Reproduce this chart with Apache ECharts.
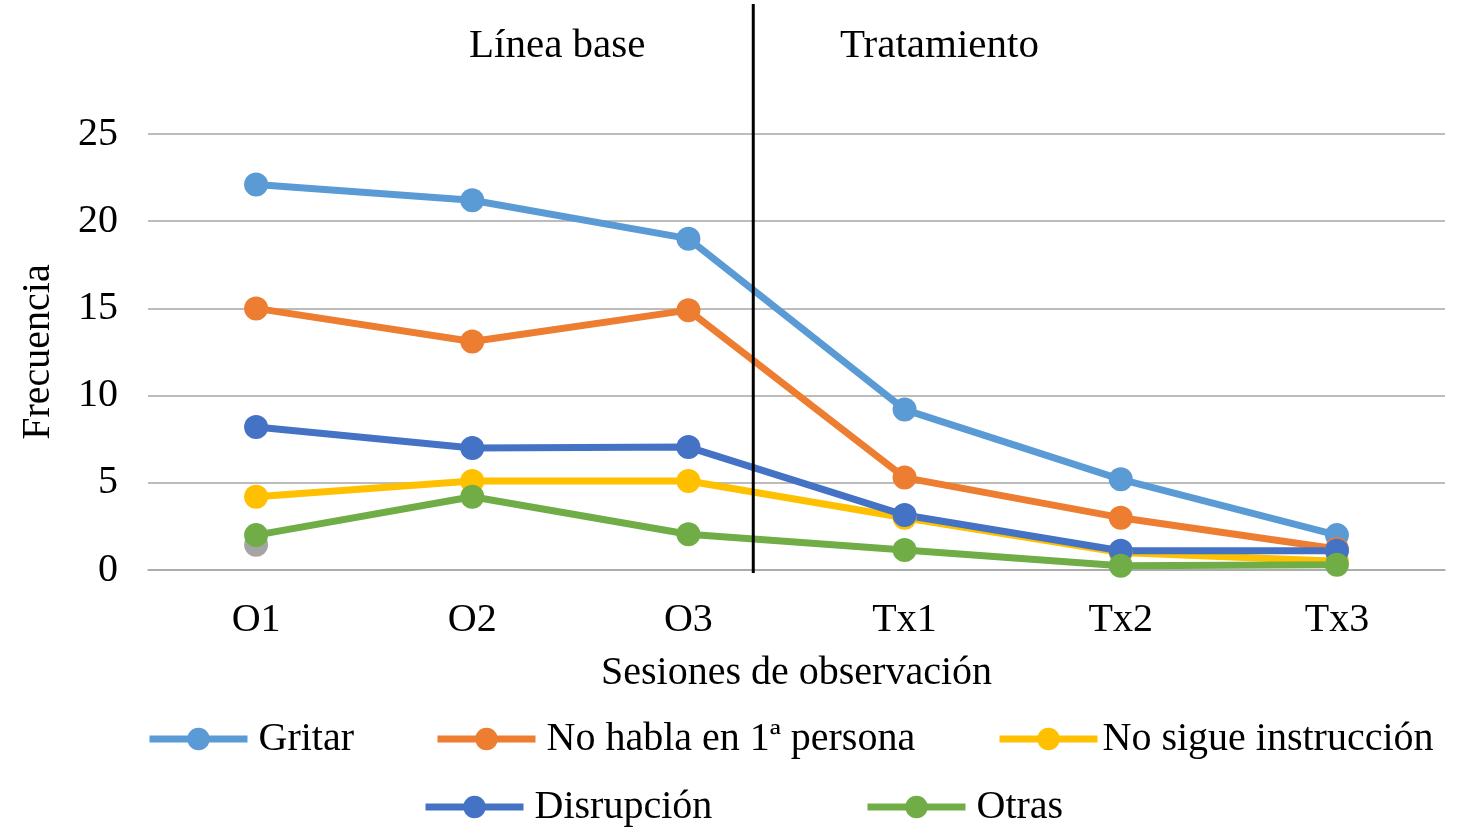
<!DOCTYPE html>
<html>
<head>
<meta charset="utf-8">
<script src="https://cdn.jsdelivr.net/npm/echarts@6/dist/echarts.min.js"></script>
<style>html,body{margin:0;padding:0;background:#fff}#c{width:1475px;height:834px}</style>
</head>
<body>
<div id="c"></div>
<script>
var categories = ['O1', 'O2', 'O3', 'Tx1', 'Tx2', 'Tx3'];
var gritar = [22.1, 21.2, 19.0, 9.2, 5.2, 2.0];
var noHabla = [15.0, 13.1, 14.9, 5.3, 3.0, 1.2];
var serieGris = [1.45, null, null, null, null, null];
var noSigue = [4.2, 5.1, 5.1, 3.0, 1.0, 0.5];
var disrupcion = [8.2, 7.0, 7.05, 3.15, 1.1, 1.1];
var otras = [2.0, 4.2, 2.05, 1.15, 0.25, 0.3];
var yTicks = [0, 5, 10, 15, 20, 25];
var phaseDivider = 2.8; // position between O3 and Tx1 (category index units)
var phaseLabels = ['Línea base', 'Tratamiento'];

var FONT = 'Liberation Serif, Times New Roman, serif';
var chart = echarts.init(document.getElementById('c'));

function mk(name, data, color) {
  return {
    name: name, type: 'line', data: data,
    symbol: 'circle', symbolSize: 24,
    lineStyle: { width: 7, color: color },
    itemStyle: { color: color },
    emphasis: { disabled: true },
    connectNulls: false
  };
}
function lg(name, left, top, pad) {
  return {
    data: [name], left: left, top: top,
    itemWidth: 98, itemHeight: 28, itemGap: 0,
    lineStyle: { width: 7 },
    textStyle: { fontFamily: FONT, fontSize: 40, color: '#000', padding: [0, 0, 0, pad] },
    selectedMode: false
  };
}

chart.setOption({
  animation: false,
  grid: { left: 148, right: 30, top: 134, bottom: 264 },
  graphic: [
    { type: 'text', left: 469, top: 26, style: { text: phaseLabels[0], font: '41px ' + FONT, fill: '#000' } },
    { type: 'text', left: 840, top: 26, style: { text: phaseLabels[1], font: '41px ' + FONT, fill: '#000' } }
  ],
  legend: [
    lg('Gritar', 141, 714, 6),
    lg('No habla en 1ª persona', 429, 714, 6),
    lg('No sigue instrucción', 991, 714, 0),
    lg('Disrupción', 417, 782, 6),
    lg('Otras', 859, 782, 6)
  ],
  xAxis: [{
    type: 'category', data: categories, boundaryGap: true,
    axisLine: { lineStyle: { color: '#A6A6A6', width: 1.5 } },
    axisTick: { show: false },
    axisLabel: { fontFamily: FONT, fontSize: 40, color: '#000', margin: 30 },
    name: 'Sesiones de observación', nameLocation: 'middle', nameGap: 83,
    nameTextStyle: { fontFamily: FONT, fontSize: 40, color: '#000' }
  }, {
    type: 'value', min: 0, max: 6, show: false
  }],
  yAxis: [{
    type: 'value', min: 0, max: 25, interval: 5,
    axisLine: { show: false }, axisTick: { show: false },
    splitLine: { lineStyle: { color: '#A6A6A6', width: 1.5 } },
    axisLabel: { fontFamily: FONT, fontSize: 40, color: '#000', margin: 30,
      formatter: function (v) { return yTicks.indexOf(v) >= 0 ? String(v) : ''; } },
    name: 'Frecuencia', nameLocation: 'middle', nameGap: 90,
    nameTextStyle: { fontFamily: FONT, fontSize: 40, color: '#000' }
  }, {
    type: 'value', min: 0, max: 25, show: false
  }],
  series: [
    mk('Gritar', gritar, '#5B9BD5'),
    mk('No habla en 1ª persona', noHabla, '#ED7D31'),
    mk('Serie gris', serieGris, '#A5A5A5'),
    mk('No sigue instrucción', noSigue, '#FFC000'),
    mk('Disrupción', disrupcion, '#4472C4'),
    mk('Otras', otras, '#70AD47'),
    {
      type: 'line', xAxisIndex: 1, yAxisIndex: 1, clip: false, silent: true,
      data: [[phaseDivider, -0.17], [phaseDivider, 32.45]],
      symbol: 'none', lineStyle: { color: '#000', width: 3 }, z: 10
    }
  ]
});
</script>
</body>
</html>
